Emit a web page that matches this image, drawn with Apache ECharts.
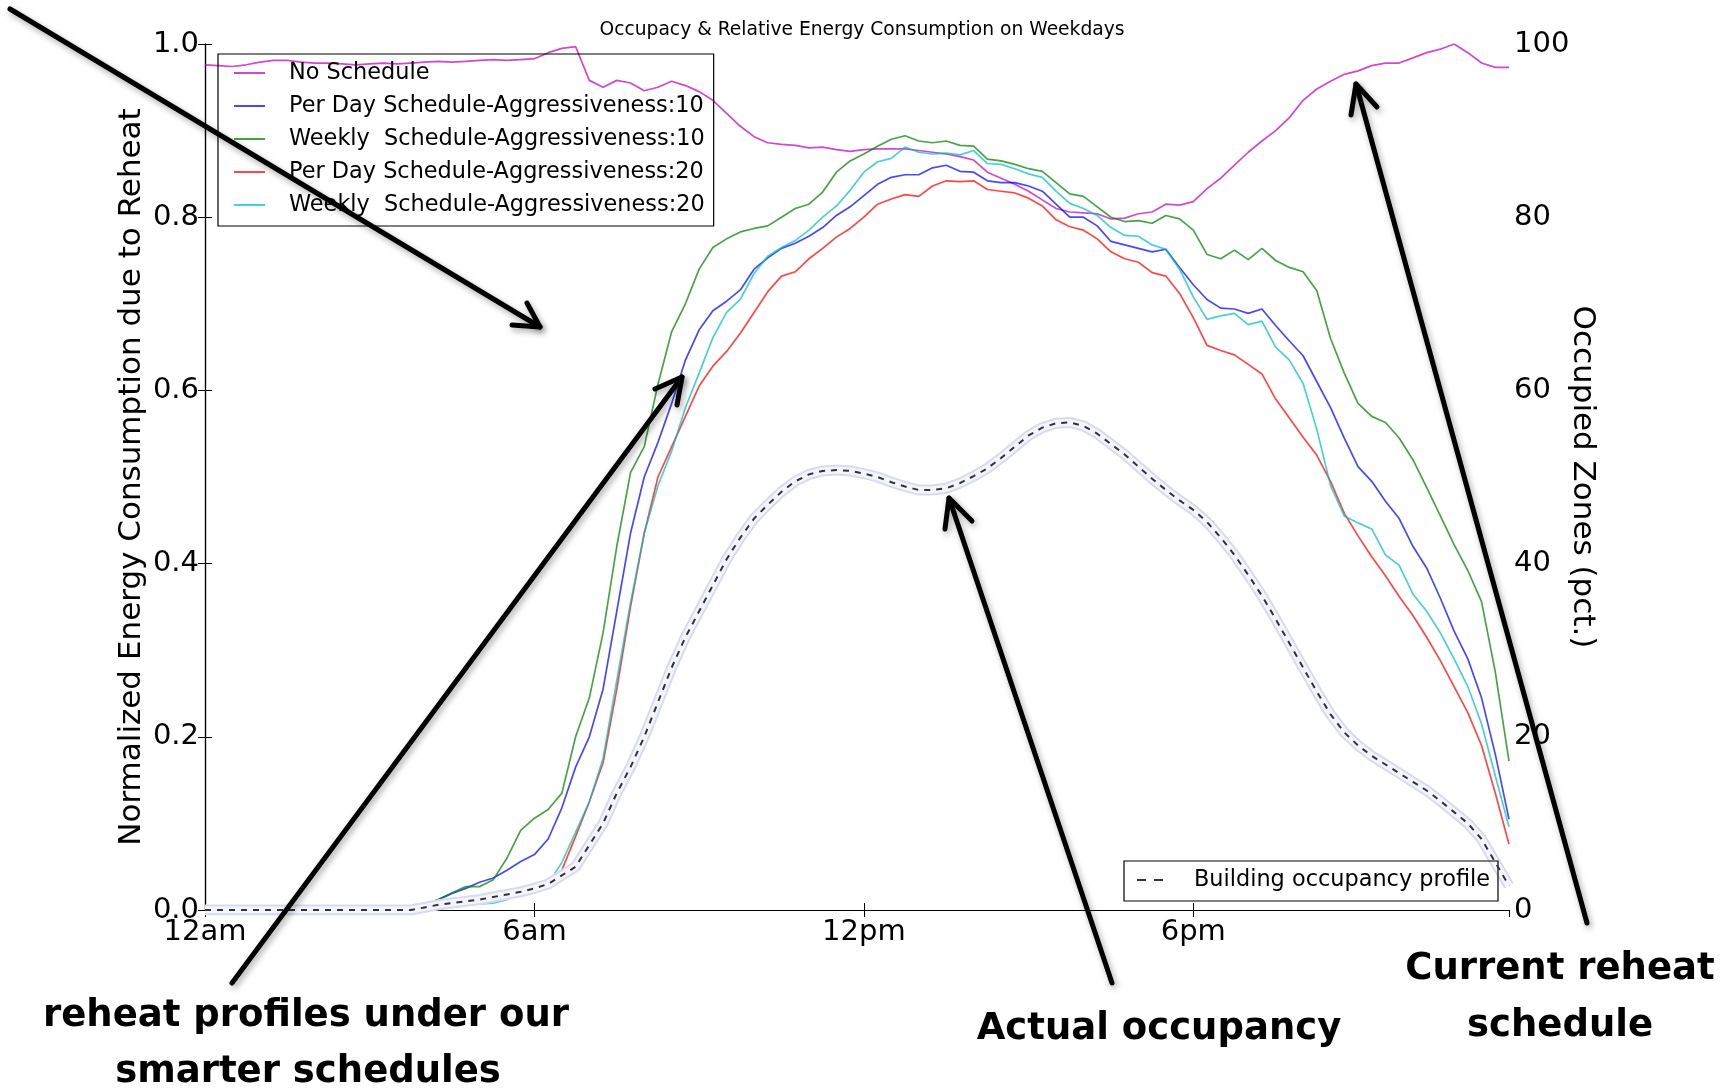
<!DOCTYPE html>
<html>
<head>
<meta charset="utf-8">
<title>Occupancy & Relative Energy Consumption on Weekdays</title>
<script src="https://cdn.jsdelivr.net/npm/echarts@6/dist/echarts.min.js"></script>
<style>
  html, body { margin: 0; padding: 0; background: #fff; }
  #chart { width: 1734px; height: 1090px; }
</style>
</head>
<body>
<div id="chart"></div>
<script>
// time of day in hours, one slot every 15 minutes
var slotHours = [];
for (var k = 0; k < 96; k++) slotHours.push(k * 0.25);

var xTickLabels = ['12am', '6am', '12pm', '6pm'];

var seriesNames = [
  'No Schedule',
  'Per Day Schedule-Aggressiveness:10',
  'Weekly  Schedule-Aggressiveness:10',
  'Per Day Schedule-Aggressiveness:20',
  'Weekly  Schedule-Aggressiveness:20'
];
var occupancyName = 'Building occupancy profile';

// normalized reheat energy (left axis)
var noSchedule = [
  0.976, 0.975, 0.974, 0.976, 0.979, 0.981, 0.981, 0.979, 0.978, 0.978, 0.977, 0.976,
  0.977, 0.978, 0.977, 0.978, 0.979, 0.980, 0.979, 0.980, 0.981, 0.982, 0.981, 0.982,
  0.983, 0.990, 0.995, 0.997, 0.958, 0.950, 0.958, 0.955, 0.946, 0.950, 0.957, 0.952,
  0.945, 0.935, 0.920, 0.905, 0.893, 0.886, 0.884, 0.883, 0.880, 0.881, 0.878, 0.876,
  0.878, 0.879, 0.879, 0.879, 0.877, 0.875, 0.873, 0.870, 0.866, 0.852, 0.845, 0.838,
  0.830, 0.820, 0.810, 0.806, 0.805, 0.804, 0.798, 0.799, 0.804, 0.806, 0.815, 0.814,
  0.818, 0.833, 0.845, 0.860, 0.875, 0.888, 0.900, 0.915, 0.935, 0.948, 0.957, 0.965,
  0.969, 0.975, 0.978, 0.978, 0.984, 0.990, 0.994, 1.000, 0.990, 0.978, 0.973, 0.973
];
var perDay10 = [
  0, 0, 0, 0, 0, 0, 0, 0, 0, 0, 0, 0,
  0, 0, 0, 0, 0.005, 0.012, 0.019, 0.025, 0.032, 0.037, 0.046, 0.056,
  0.064, 0.082, 0.118, 0.165, 0.200, 0.255, 0.345, 0.435, 0.500, 0.540, 0.585, 0.635,
  0.670, 0.692, 0.703, 0.716, 0.740, 0.753, 0.764, 0.770, 0.778, 0.788, 0.802, 0.812,
  0.825, 0.838, 0.846, 0.849, 0.849, 0.857, 0.860, 0.853, 0.852, 0.842, 0.840, 0.840,
  0.836, 0.830, 0.815, 0.800, 0.800, 0.790, 0.772, 0.768, 0.764, 0.760, 0.763, 0.742,
  0.722, 0.705, 0.695, 0.694, 0.689, 0.694, 0.675, 0.657, 0.640, 0.610, 0.580, 0.545,
  0.512, 0.495, 0.472, 0.452, 0.420, 0.395, 0.360, 0.322, 0.290, 0.245, 0.180, 0.105
];
var weekly10 = [
  0, 0, 0, 0, 0, 0, 0, 0, 0, 0, 0, 0,
  0, 0, 0, 0.002, 0.006, 0.012, 0.020, 0.027, 0.027, 0.035, 0.060, 0.092,
  0.106, 0.116, 0.135, 0.200, 0.245, 0.320, 0.420, 0.505, 0.535, 0.607, 0.668, 0.700,
  0.740, 0.765, 0.775, 0.783, 0.787, 0.790, 0.800, 0.810, 0.815, 0.829, 0.852, 0.865,
  0.873, 0.882, 0.890, 0.894, 0.888, 0.886, 0.888, 0.883, 0.882, 0.867, 0.865, 0.861,
  0.856, 0.853, 0.840, 0.827, 0.824, 0.812, 0.800, 0.795, 0.796, 0.793, 0.802, 0.798,
  0.785, 0.757, 0.752, 0.762, 0.751, 0.764, 0.750, 0.742, 0.737, 0.715, 0.660, 0.620,
  0.585, 0.570, 0.563, 0.545, 0.520, 0.488, 0.455, 0.422, 0.392, 0.356, 0.275, 0.172
];
var perDay20 = [
  0, 0, 0, 0, 0, 0, 0, 0, 0, 0, 0, 0,
  0, 0, 0, 0, 0.003, 0.005, 0.008, 0.011, 0.014, 0.017, 0.020, 0.023,
  0.026, 0.034, 0.046, 0.085, 0.125, 0.170, 0.255, 0.350, 0.435, 0.500, 0.535, 0.570,
  0.605, 0.628, 0.645, 0.666, 0.690, 0.714, 0.732, 0.737, 0.752, 0.764, 0.777, 0.787,
  0.800, 0.815, 0.821, 0.826, 0.824, 0.836, 0.842, 0.841, 0.842, 0.832, 0.830, 0.828,
  0.822, 0.813, 0.797, 0.789, 0.785, 0.775, 0.760, 0.752, 0.748, 0.736, 0.732, 0.712,
  0.684, 0.652, 0.646, 0.641, 0.630, 0.619, 0.590, 0.568, 0.546, 0.525, 0.495, 0.458,
  0.432, 0.408, 0.386, 0.362, 0.340, 0.315, 0.288, 0.258, 0.228, 0.190, 0.135, 0.076
];
var weekly20 = [
  0, 0, 0, 0, 0, 0, 0, 0, 0, 0, 0, 0,
  0, 0, 0, 0, 0.002, 0.004, 0.005, 0.006, 0.007, 0.008, 0.012, 0.020,
  0.023, 0.030, 0.055, 0.090, 0.125, 0.175, 0.265, 0.355, 0.435, 0.490, 0.530, 0.580,
  0.620, 0.661, 0.690, 0.705, 0.735, 0.755, 0.765, 0.773, 0.785, 0.800, 0.813, 0.831,
  0.852, 0.864, 0.868, 0.881, 0.875, 0.873, 0.874, 0.872, 0.877, 0.862, 0.861, 0.856,
  0.850, 0.846, 0.830, 0.816, 0.810, 0.802, 0.788, 0.779, 0.778, 0.768, 0.763, 0.740,
  0.708, 0.682, 0.686, 0.689, 0.676, 0.680, 0.650, 0.635, 0.608, 0.555, 0.490, 0.455,
  0.447, 0.440, 0.410, 0.398, 0.365, 0.345, 0.320, 0.290, 0.258, 0.215, 0.155, 0.096
];

// occupied zones in percent (right axis)
var occupancy = [
  0, 0, 0, 0, 0, 0, 0, 0, 0, 0, 0, 0,
  0, 0, 0, 0, 0.3, 0.6, 0.8, 1.0, 1.2, 1.5, 1.8, 2.1,
  2.5, 3.0, 4.0, 5.0, 7.5, 10.0, 13.5, 16.5, 20.0, 24.0, 28.0, 31.5,
  34.5, 37.5, 40.5, 43.0, 45.2, 46.8, 48.3, 49.5, 50.3, 50.7, 50.8, 50.7,
  50.4, 50.0, 49.4, 48.9, 48.5, 48.5, 48.7, 49.3, 50.1, 51.0, 52.2, 53.5,
  54.8, 55.7, 56.2, 56.3, 55.9, 55.0, 53.8, 52.6, 51.2, 49.8, 48.5, 47.3,
  46.2, 44.8, 43.0, 41.0, 38.7, 36.3, 33.6, 30.8, 28.0, 25.2, 22.6, 20.5,
  19.0, 17.8, 16.8, 15.8, 14.8, 13.8, 12.6, 11.3, 10.0, 8.2, 5.5, 2.8
];

var energySeries = [noSchedule, perDay10, weekly10, perDay20, weekly20];
var colors = ['#bf00bf', '#0000ff', '#008000', '#ff0000', '#00bfbf'];

function pairs(values) {
  return values.map(function (v, k) { return [slotHours[k], v]; });
}

var font = 'DejaVu Sans';
var chart = echarts.init(document.getElementById('chart'), null, { renderer: 'canvas' });

var series = energySeries.map(function (vals, k) {
  return {
    name: seriesNames[k],
    type: 'line',
    xAxisIndex: 0,
    yAxisIndex: 0,
    symbol: 'none',
    data: pairs(vals),
    lineStyle: { color: colors[k], width: 1.7, opacity: 0.72 },
    itemStyle: { color: colors[k], opacity: 0.72 },
    z: 2
  };
});
// soft halo round the occupancy curve
series.push({
  name: 'halo-outer', type: 'line', xAxisIndex: 0, yAxisIndex: 1, symbol: 'none',
  data: pairs(occupancy), silent: true,
  lineStyle: { color: '#d8dbf0', width: 11 }, z: 3
});
series.push({
  name: 'halo-inner', type: 'line', xAxisIndex: 0, yAxisIndex: 1, symbol: 'none',
  data: pairs(occupancy), silent: true,
  lineStyle: { color: '#f4f5fb', width: 7 }, z: 3
});
series.push({
  name: occupancyName, type: 'line', xAxisIndex: 0, yAxisIndex: 1, symbol: 'none',
  data: pairs(occupancy),
  lineStyle: { color: '#333', width: 2, type: [6, 6] },
  itemStyle: { color: '#333' }, z: 4
});

function arrow(from, tip, wingA, wingB) {
  var style = {
    stroke: '#000', lineWidth: 5, fill: null, lineCap: 'round', lineJoin: 'round',
    shadowBlur: 6, shadowColor: 'rgba(0,0,0,0.35)', shadowOffsetX: 2, shadowOffsetY: 3
  };
  return [
    { type: 'polyline', z: 100, silent: true, shape: { points: [from, tip] }, style: style },
    { type: 'polyline', z: 100, silent: true, shape: { points: [wingA, tip, wingB] }, style: style }
  ];
}

function note(text, x, y) {
  return {
    type: 'text', z: 100, silent: true, x: x, y: y,
    style: {
      text: text, fill: '#000', font: 'bold 37px "DejaVu Sans"',
      align: 'center', verticalAlign: 'middle'
    }
  };
}

var graphics = []
  .concat(arrow([10, 9], [540, 327], [527, 303], [512, 325]))
  .concat(arrow([232, 983], [682, 377], [655, 389], [677, 405]))
  .concat(arrow([1112, 983], [949, 498], [945, 529], [972, 521]))
  .concat(arrow([1587, 923], [1356, 84], [1351, 115], [1377, 107]))
  .concat([
    note('reheat profiles under our', 306, 1016),
    note('smarter schedules', 308, 1072),
    note('Actual occupancy', 1159, 1029),
    note('Current reheat', 1560, 969),
    note('schedule', 1560, 1026)
  ]);

var axisLineStyle = { color: '#000', width: 1.2 };
var solidIcon = 'path://M0,0 H31 V2 H0 Z';
var dashIcon = 'path://M0,0 H9 V2 H0 Z M17,0 H26 V2 H17 Z';

chart.setOption({
  animation: false,
  backgroundColor: '#fff',
  title: {
    text: 'Occupacy & Relative Energy Consumption on Weekdays',
    left: 857, top: 16, textAlign: 'center',
    textStyle: { fontFamily: font, fontSize: 18.7, fontWeight: 'normal', color: '#000' }
  },
  grid: { left: 205, top: 44, right: 225, bottom: 180, containLabel: false },
  legend: [
    {
      data: seriesNames.map(function (n) { return { name: n, icon: solidIcon }; }),
      orient: 'vertical', left: 218, top: 54,
      itemWidth: 31, itemHeight: 2, itemGap: 11,
      padding: [8, 9, 10, 16],
      borderColor: '#000', borderWidth: 1.2,
      selectedMode: false,
      textStyle: { fontFamily: font, fontSize: 22.4, color: '#000', lineHeight: 22, padding: [0, 0, 0, 19] }
    },
    {
      data: [{ name: occupancyName, icon: dashIcon }],
      orient: 'vertical', left: 1124, top: 861,
      itemWidth: 26, itemHeight: 2,
      padding: [8, 8, 10, 13],
      borderColor: '#000', borderWidth: 1.2,
      selectedMode: false,
      textStyle: { fontFamily: font, fontSize: 22.4, color: '#000', lineHeight: 22, padding: [0, 0, 0, 26] }
    }
  ],
  xAxis: [
    {
      type: 'value', position: 'bottom', min: 0, max: 23.75, interval: 6,
      axisLine: { show: true, lineStyle: axisLineStyle },
      axisTick: { show: true, inside: true, length: 7, lineStyle: { color: '#000' } },
      splitLine: { show: false },
      axisLabel: {
        margin: 8, fontFamily: font, fontSize: 29, color: '#000',
        showMinLabel: true, showMaxLabel: false,
        formatter: function (v) {
          var k = Math.round(v / 6);
          return (Math.abs(v - k * 6) < 1e-6 && xTickLabels[k]) ? xTickLabels[k] : '';
        }
      }
    },
    {
      type: 'value', position: 'top', min: 0, max: 23.75, interval: 6,
      axisLine: { show: true, lineStyle: axisLineStyle },
      axisTick: { show: true, inside: true, length: 7, lineStyle: { color: '#000' } },
      splitLine: { show: false },
      axisLabel: { show: false }
    }
  ],
  yAxis: [
    {
      type: 'value', position: 'left', min: 0, max: 1, interval: 0.2,
      name: 'Normalized Energy Consumption due to Reheat',
      nameLocation: 'middle', nameGap: 58, nameMoveOverlap: false,
      nameTextStyle: { fontFamily: font, fontSize: 31, color: '#000' },
      axisLine: { show: true, lineStyle: axisLineStyle },
      axisTick: { show: true, inside: true, length: 7, lineStyle: { color: '#000' } },
      splitLine: { show: false },
      axisLabel: {
        margin: 6, fontFamily: font, fontSize: 29, color: '#000',
        formatter: function (v) { return v.toFixed(1); }
      }
    },
    {
      type: 'value', position: 'right', min: 0, max: 100, interval: 20,
      name: 'Occupied Zones (pct.)',
      nameLocation: 'middle', nameGap: 58, nameRotate: -90, nameMoveOverlap: false,
      nameTextStyle: { fontFamily: font, fontSize: 31, color: '#000' },
      axisLine: { show: true, lineStyle: axisLineStyle },
      axisTick: { show: true, inside: true, length: 7, lineStyle: { color: '#000' } },
      splitLine: { show: false },
      axisLabel: { margin: 5, fontFamily: font, fontSize: 29, color: '#000' }
    }
  ],
  series: series,
  graphic: graphics
});
</script>
</body>
</html>
